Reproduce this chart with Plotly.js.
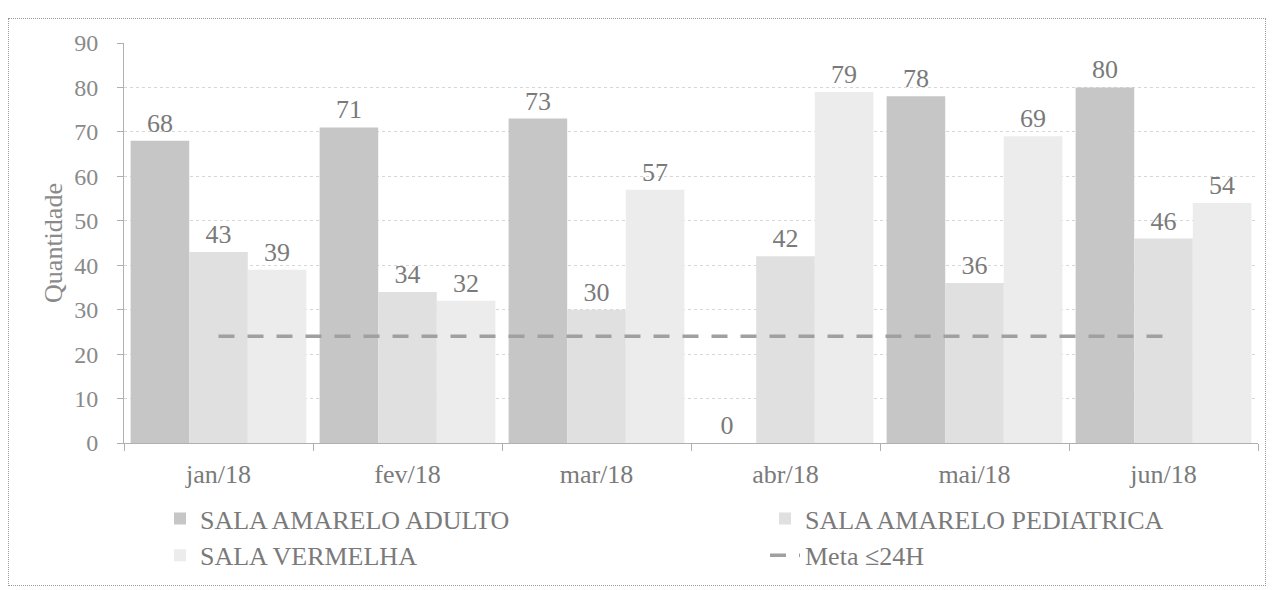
<!DOCTYPE html>
<html>
<head>
<meta charset="utf-8">
<script src="https://cdn.plot.ly/plotly-3.0.1.min.js"></script>
<style>
  html, body { margin: 0; padding: 0; background: #fff; }
  #wrap { position: relative; width: 1274px; height: 590px; }
  #chart { width: 1274px; height: 590px; }
  #frame { position: absolute; left: 8px; top: 18px; width: 1256px; height: 566px;
           border: 1px dotted #9a9a9a; pointer-events: none; }
</style>
</head>
<body>
<div id="wrap">
  <div id="chart"></div>
  <div id="frame"></div>
</div>
<script>
const months = ["jan/18", "fev/18", "mar/18", "abr/18", "mai/18", "jun/18"];
const adulto = [68, 71, 73, 0, 78, 80];
const pediatrica = [43, 34, 30, 42, 36, 46];
const vermelha = [39, 32, 57, 79, 69, 54];
const meta = [24, 24, 24, 24, 24, 24];
const yTicks = [0, 10, 20, 30, 40, 50, 60, 70, 80, 90];

const serif = "Liberation Serif";
const textFont = {family: serif, size: 26, color: "#7a7a7a"};

function barTrace(name, vals, color) {
  return {
    type: "bar", name: name, x: months, y: vals,
    marker: {color: color, line: {width: 0}},
    text: vals.map(String), textposition: "outside",
    textfont: textFont, cliponaxis: false, hoverinfo: "x+y"
  };
}

const data = [
  barTrace("SALA AMARELO ADULTO", adulto, "#c6c6c6"),
  barTrace("SALA AMARELO PEDIATRICA", pediatrica, "#e0e0e0"),
  barTrace("SALA VERMELHA", vermelha, "#ececec"),
  {
    type: "scatter", mode: "lines", name: "Meta ≤24H", x: months, y: meta,
    line: {color: "#a0a0a0", width: 3.5, dash: "16px,13px"}
  }
];

const layout = {
  width: 1274, height: 590,
  margin: {l: 124, r: 16, t: 43, b: 146},
  paper_bgcolor: "#ffffff", plot_bgcolor: "#ffffff",
  font: {family: serif, color: "#7a7a7a"},
  barmode: "group", bargap: 0.07, bargroupgap: 0,
  showlegend: true,
  legend: {
    orientation: "h", x: -0.0001, y: -0.1275, xanchor: "left", yanchor: "top",
    entrywidth: 464, entrywidthmode: "pixels", indentation: 96,
    font: {family: serif, size: 26, color: "#7a7a7a"},
    traceorder: "normal"
  },
  xaxis: {
    type: "category", tickfont: {family: serif, size: 26, color: "#7a7a7a"},
    ticklabelstandoff: 8,
    showline: true, linecolor: "#b0b0b0", linewidth: 1,
    ticks: "outside", tickson: "boundaries", ticklen: 7, tickcolor: "#b0b0b0",
    showgrid: false, zeroline: false
  },
  yaxis: {
    range: [0, 90], tickvals: yTicks, ticktext: yTicks.map(String),
    tickfont: {family: serif, size: 24, color: "#8a8a8a"},
    ticklabelstandoff: 14,
    title: {text: "Quantidade", font: {family: serif, size: 26, color: "#8a8a8a"}},
    showline: true, linecolor: "#b0b0b0", linewidth: 1,
    ticks: "outside", ticklen: 6, tickcolor: "#b0b0b0",
    showgrid: true, gridcolor: "#d6d6d6", griddash: "dot", gridwidth: 1,
    zeroline: false
  }
};

Plotly.newPlot("chart", data, layout, {staticPlot: true, displayModeBar: false});
</script>
</body>
</html>
